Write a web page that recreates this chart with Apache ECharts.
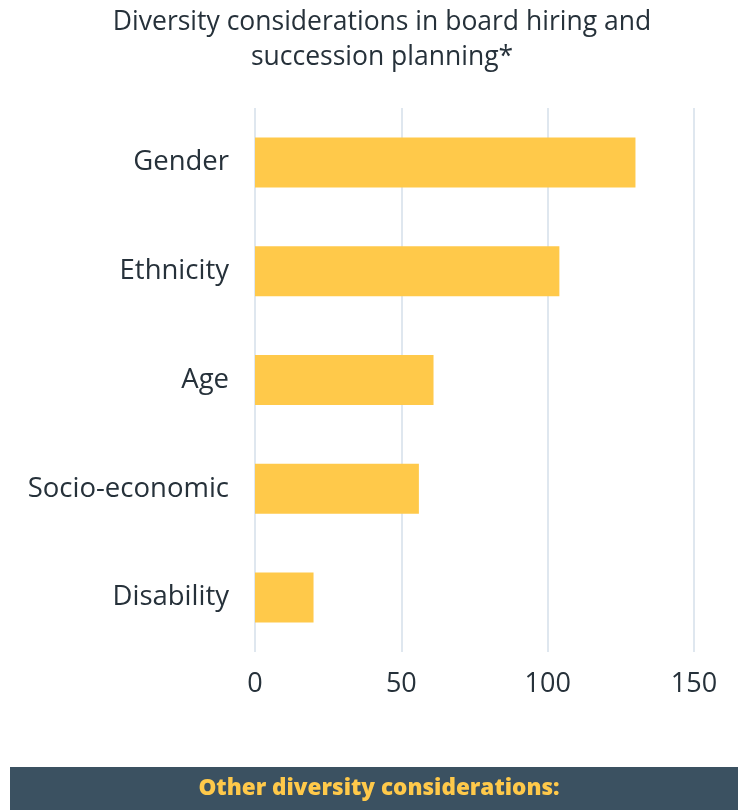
<!DOCTYPE html>
<html>
<head>
<meta charset="utf-8">
<script src="https://cdn.jsdelivr.net/npm/echarts@6/dist/echarts.min.js"></script>
<style>
    html, body { margin: 0; padding: 0; background: #fff; }
    #chart { width: 738px; height: 810px; }
</style>
</head>
<body>
<div id="chart"></div>
<script>
    // values
    var categories = ['Gender', 'Ethnicity', 'Age', 'Socio-economic', 'Disability'];
    var counts = [130, 104, 61, 56, 20];
    var titleLines = ['Diversity considerations in board hiring and', 'succession planning*'];
    var bannerText = 'Other diversity considerations:';

    var chart = echarts.init(document.getElementById('chart'));
    var option = {
        title: {
            text: titleLines.join('\n'),
            left: 377,
            textAlign: 'center',
            top: 0,
            textStyle: {
                fontFamily: 'Open Sans',
                fontWeight: 'normal',
                fontSize: 26.5,
                lineHeight: 35,
                color: '#26313a'
            }
        },
        grid: {
            left: 255,
            right: 44,
            top: 108,
            bottom: 158
        },
        xAxis: {
            type: 'value',
            min: 0,
            max: 150,
            interval: 50,
            axisLine: { show: false },
            axisTick: { show: false },
            axisLabel: {
                fontFamily: 'Open Sans',
                fontSize: 27,
                color: '#26313a',
                margin: 19
            },
            splitLine: {
                lineStyle: { color: '#dfe7ef', width: 2 }
            }
        },
        yAxis: {
            type: 'category',
            inverse: true,
            data: categories,
            axisLine: { show: false },
            axisTick: { show: false },
            axisLabel: {
                fontFamily: 'Open Sans',
                fontSize: 27.5,
                color: '#26313a',
                margin: 26,
                padding: [0, 0, 6, 0]
            }
        },
        series: [
            {
                type: 'bar',
                data: counts,
                barWidth: 50,
                itemStyle: { color: '#ffc94a' }
            }
        ],
        graphic: [
            {
                type: 'rect',
                shape: { x: 10, y: 767, width: 728, height: 43 },
                style: { fill: '#3b5161' }
            },
            {
                type: 'text',
                x: 379,
                y: 789,
                style: {
                    text: bannerText,
                    fill: '#ffc94a',
                    font: '800 22.5px "Open Sans"',
                    align: 'center',
                    verticalAlign: 'middle'
                }
            }
        ]
    };
    chart.setOption(option);
</script>
</body>
</html>
